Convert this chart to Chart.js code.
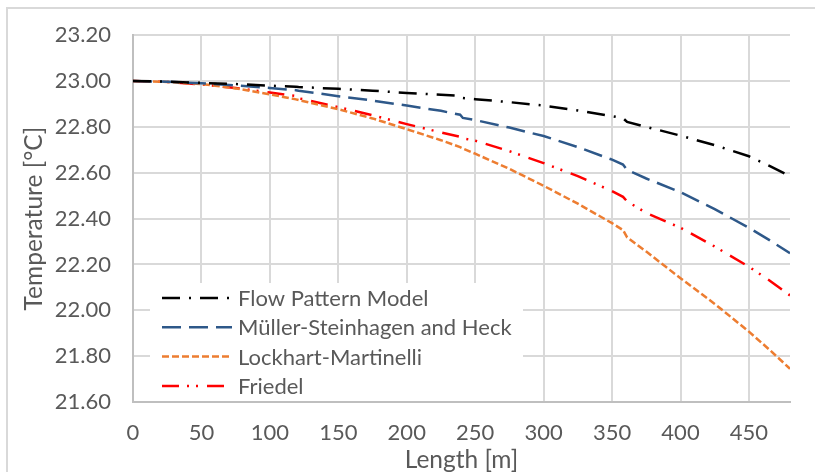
<!DOCTYPE html>
<html lang="en">
<head>
    <meta charset="UTF-8">
    <title>Temperature along the pipe</title>
    <script src="https://cdn.jsdelivr.net/npm/chart.js"></script>
    <style>
        body {
            margin: 0;
            padding: 0;
            background: #fff;
            overflow: hidden;
        }
        .frame {
            position: absolute;
            left: 6px;
            top: 7px;
            width: 900px;
            height: 600px;
            border: 2px solid #d9d9d9;
        }
        .chart-box {
            position: absolute;
            left: 0;
            top: 0;
            width: 815px;
            height: 472px;
        }
    </style>
</head>
<body>
    <div class="frame"></div>
    <div class="chart-box">
        <canvas id="tempChart"></canvas>
    </div>

    <script>
        // Length along the pipe [m]
        const lengths = [0, 25, 50, 75, 100, 119, 121, 150, 175, 200, 225, 239, 241, 250, 275, 300, 325, 350, 358, 361, 375, 400, 425, 450, 465, 480];

        // Temperature [°C] for each pressure-drop model
        const flowPattern = [23.000, 22.998, 22.992, 22.987, 22.980, 22.975, 22.974, 22.966, 22.958, 22.948, 22.940, 22.935, 22.926, 22.921, 22.908, 22.893, 22.872, 22.847, 22.838, 22.822, 22.800, 22.762, 22.720, 22.672, 22.630, 22.585];
        const mullerSteinhagen = [23.000, 22.997, 22.990, 22.981, 22.970, 22.960, 22.958, 22.934, 22.915, 22.893, 22.870, 22.853, 22.839, 22.830, 22.797, 22.760, 22.712, 22.657, 22.636, 22.612, 22.575, 22.515, 22.441, 22.360, 22.306, 22.249];
        const lockhartMartinelli = [23.000, 22.996, 22.987, 22.968, 22.942, 22.920, 22.917, 22.877, 22.837, 22.790, 22.742, 22.712, 22.706, 22.683, 22.617, 22.543, 22.465, 22.380, 22.350, 22.318, 22.256, 22.140, 22.028, 21.907, 21.828, 21.745];
        const friedel = [23.000, 22.996, 22.985, 22.970, 22.950, 22.935, 22.925, 22.886, 22.851, 22.812, 22.776, 22.757, 22.750, 22.740, 22.694, 22.642, 22.585, 22.520, 22.495, 22.475, 22.425, 22.360, 22.278, 22.190, 22.130, 22.065];

        const seriesNames = ['Flow Pattern Model', 'Müller-Steinhagen and Heck', 'Lockhart-Martinelli', 'Friedel'];

        const textColor = '#595959';
        const fontFamily = 'Lato, "Open Sans", sans-serif';

        function toPoints(values) {
            return lengths.map((x, i) => ({ x: x, y: values[i] }));
        }

        function series(label, values, color, dash) {
            return {
                label: label,
                data: toPoints(values),
                borderColor: color,
                backgroundColor: color,
                borderWidth: 2.5,
                borderDash: dash,
                pointRadius: 0,
                tension: 0,
                fill: false
            };
        }

        // Legend drawn inside the plot, lower left, on a white box
        const insideLegend = {
            id: 'insideLegend',
            beforeDatasetsDraw(chart) {
                const { ctx, chartArea } = chart;
                const left = chartArea.left + 17;
                const top = chartArea.bottom - 119;
                ctx.save();
                ctx.fillStyle = '#fff';
                ctx.fillRect(left, top, 373, 118);
                ctx.font = '22px ' + fontFamily;
                ctx.textBaseline = 'middle';
                chart.data.datasets.forEach((ds, i) => {
                    const y = top + 15 + i * 29.3;
                    ctx.strokeStyle = ds.borderColor;
                    ctx.lineWidth = ds.borderWidth;
                    ctx.setLineDash(ds.borderDash);
                    ctx.beginPath();
                    ctx.moveTo(left + 12, y);
                    ctx.lineTo(left + 82, y);
                    ctx.stroke();
                    ctx.setLineDash([]);
                    ctx.fillStyle = textColor;
                    ctx.fillText(ds.label, left + 88, y + 1);
                });
                ctx.restore();
            }
        };

        new Chart(document.getElementById('tempChart'), {
            type: 'line',
            data: {
                datasets: [
                    series(seriesNames[0], flowPattern, '#000000', [18, 9, 2, 9]),
                    series(seriesNames[1], mullerSteinhagen, '#2e5889', [19, 8]),
                    series(seriesNames[2], lockhartMartinelli, '#ed7d31', [7, 3]),
                    series(seriesNames[3], friedel, '#ff0000', [17, 8, 2, 7, 2, 9])
                ]
            },
            options: {
                responsive: true,
                maintainAspectRatio: false,
                animation: false,
                layout: { padding: { left: 0, right: 25, top: 25, bottom: 0 } },
                plugins: {
                    legend: { display: false },
                    tooltip: { enabled: false }
                },
                scales: {
                    x: {
                        type: 'linear',
                        min: 0,
                        max: 480,
                        afterFit: s => { s.height = 70; },
                        ticks: {
                            stepSize: 50,
                            includeBounds: false,
                            color: textColor,
                            padding: 18,
                            maxRotation: 0,
                            font: { family: fontFamily, size: 22 }
                        },
                        grid: { color: '#d9d9d9', lineWidth: 2, drawTicks: false },
                        border: { color: '#bfbfbf', width: 2 },
                        title: {
                            display: true,
                            text: 'Length [m]',
                            color: textColor,
                            font: { family: fontFamily, size: 24.5, lineHeight: 1 },
                            padding: { top: 0, bottom: 0 }
                        }
                    },
                    y: {
                        min: 21.6,
                        max: 23.2,
                        afterFit: s => { s.width = 133; },
                        ticks: {
                            stepSize: 0.2,
                            color: textColor,
                            padding: 22,
                            font: { family: fontFamily, size: 22 },
                            callback: v => v.toFixed(2)
                        },
                        grid: { color: '#d9d9d9', lineWidth: 2, drawTicks: false },
                        border: { color: '#bfbfbf', width: 2 },
                        title: {
                            display: true,
                            text: 'Temperature [°C]',
                            color: textColor,
                            font: { family: fontFamily, size: 24.5, lineHeight: 1 },
                            padding: { top: 22, bottom: 0 }
                        }
                    }
                }
            },
            plugins: [insideLegend]
        });
    </script>
</body>
</html>
